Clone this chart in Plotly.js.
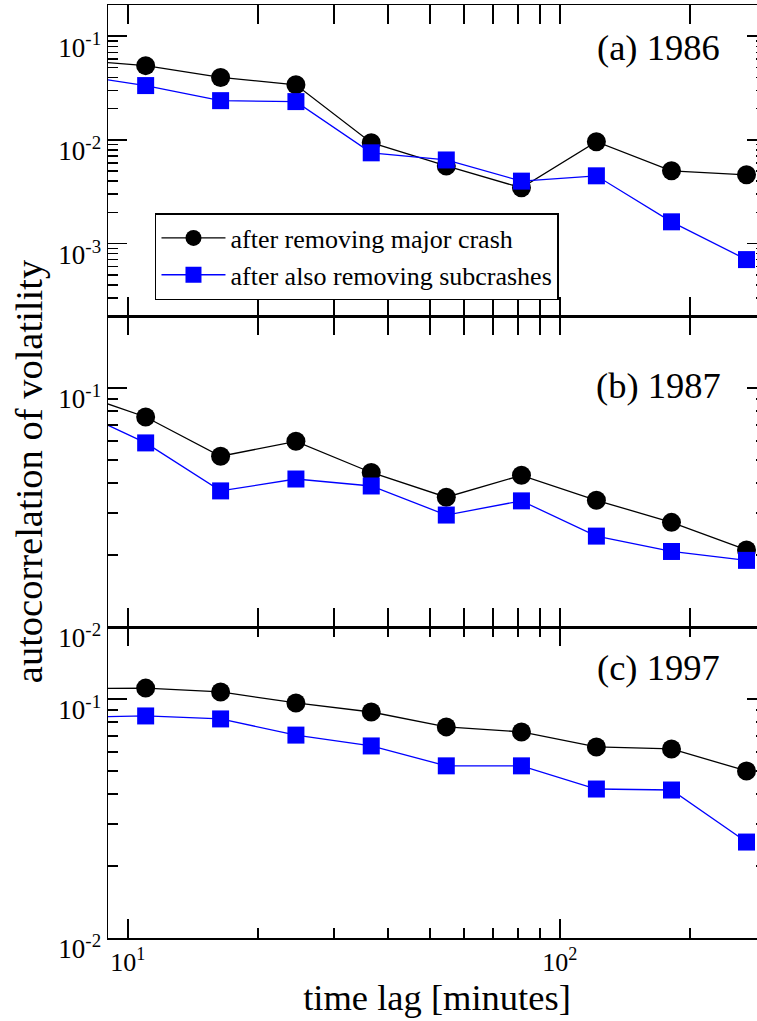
<!DOCTYPE html>
<html>
<head>
<meta charset="utf-8">
<script src="https://cdn.plot.ly/plotly-3.0.1.min.js"></script>
<style>
  html, body { margin: 0; padding: 0; overflow: hidden; background: #fff; }
  #chart { width: 770px; height: 1021px; }
</style>
</head>
<body>
<div id="chart"></div>
<script>
// Time lags (minutes) shared by all three panels
const lagMinutes = [7.39, 11.0, 16.4, 24.5, 36.6, 54.6, 81.5, 121.5, 181.3, 270.4];

// Autocorrelation of volatility, panel (a) 1986
const crash1986 = [0.0594, 0.052, 0.040, 0.034, 0.0094, 0.0056, 0.00345, 0.0096, 0.00503, 0.0046];
const sub1986   = [0.0428, 0.0334, 0.0239, 0.0234, 0.0075, 0.0064, 0.0040, 0.0045, 0.00162, 0.00070];

// Panel (b) 1987
const crash1987 = [0.0969, 0.0756, 0.0518, 0.0598, 0.0443, 0.0349, 0.0431, 0.0339, 0.0274, 0.0210];
const sub1987   = [0.0824, 0.0589, 0.0371, 0.0416, 0.0389, 0.0294, 0.0337, 0.0240, 0.0207, 0.0190];

// Panel (c) 1997
const crash1997 = [0.1105, 0.111, 0.107, 0.0962, 0.0882, 0.0764, 0.0728, 0.0630, 0.0618, 0.0500];
const sub1997   = [0.0838, 0.0849, 0.0825, 0.0706, 0.0636, 0.0525, 0.0525, 0.0420, 0.0416, 0.0252];

const seriesNames = ['after removing major crash', 'after also removing subcrashes'];
const panelLabels = ['(a) 1986', '(b) 1987', '(c) 1997'];

const xTickVals = [10, 100];
const xTickText = ['10<sup>1</sup>', '10<sup>2</sup>'];
const yTickValsA = [0.001, 0.01, 0.1];
const yTickTextA = ['10<sup>-3</sup>', '10<sup>-2</sup>', '10<sup>-1</sup>'];
const yTickValsBC = [0.01, 0.1];
const yTickTextBC = ['10<sup>-2</sup>', '10<sup>-1</sup>'];

const FONT = '"Liberation Serif", "Times New Roman", Times, serif';
const BLUE = '#0000ff';

function crashTrace(y, yaxis, show) {
  return {
    x: lagMinutes, y: y, yaxis: yaxis, xaxis: 'x',
    mode: 'lines+markers', name: seriesNames[0], legendgroup: 'crash', showlegend: show,
    line: { color: '#000', width: 1.3 },
    marker: { symbol: 'circle', size: 19, color: '#000' }
  };
}
function subTrace(y, yaxis, show) {
  return {
    x: lagMinutes, y: y, yaxis: yaxis, xaxis: 'x',
    mode: 'lines+markers', name: seriesNames[1], legendgroup: 'sub', showlegend: show,
    line: { color: BLUE, width: 1.3 },
    marker: { symbol: 'square', size: 17, color: BLUE }
  };
}

const traces = [
  crashTrace(crash1986, 'y', true),  subTrace(sub1986, 'y', true),
  crashTrace(crash1987, 'y2', false), subTrace(sub1987, 'y2', false),
  crashTrace(crash1997, 'y3', false), subTrace(sub1997, 'y3', false)
];

const tickCommon = {
  ticks: 'inside', ticklen: 19, tickwidth: 1.5, tickcolor: '#000',
  showline: true, linecolor: '#000', linewidth: 1.5, mirror: 'allticks',
  showgrid: false, zeroline: false,
  minor: { ticks: 'inside', ticklen: 10, tickwidth: 1.5, tickcolor: '#000', dtick: 'D1', showgrid: false }
};

function yAxis(domain, range, vals, text, extra) {
  return Object.assign({}, tickCommon, {
    type: 'log', domain: domain, range: range.map(Math.log10), anchor: 'x',
    tickmode: 'array', tickvals: vals, ticktext: text,
    tickfont: { family: FONT, size: 27, color: '#000' },
    ticklabelshift: 11
  }, extra || {});
}

const layout = {
  width: 770, height: 1021,
  margin: { l: 108, r: 4, t: 5, b: 83 },
  paper_bgcolor: '#fff', plot_bgcolor: '#fff',
  font: { family: FONT, color: '#000' },
  xaxis: Object.assign({}, tickCommon, {
    type: 'log', range: [Math.log10(9), Math.log10(300)], anchor: 'y3',
    tickmode: 'array', tickvals: xTickVals, ticktext: xTickText,
    tickfont: { family: FONT, size: 26, color: '#000' },
    title: { text: 'time lag [minutes]', font: { family: FONT, size: 36.5, color: '#000' }, standoff: 4 }
  }),
  yaxis: yAxis([2 / 3, 1], [0.0002, 0.2], yTickValsA, yTickTextA),
  yaxis2: yAxis([1 / 3, 2 / 3], [0.01, 0.2], yTickValsBC, yTickTextBC, {
    title: { text: 'autocorrelation of volatility', font: { family: FONT, size: 38.5, color: '#000' }, standoff: 4 }
  }),
  yaxis3: yAxis([0, 1 / 3], [0.01, 0.2], yTickValsBC, yTickTextBC),
  showlegend: true,
  legend: {
    x: 0.0714, y: 0.777, xanchor: 'left', yanchor: 'top',
    bgcolor: '#fff', bordercolor: '#000', borderwidth: 1.5,
    font: { family: FONT, size: 26, color: '#000' },
    itemwidth: 64, tracegroupgap: 0
  },
  annotations: [
    { text: panelLabels[0], x: 0.836, y: 0.954 },
    { text: panelLabels[1], x: 0.836, y: 0.5927 },
    { text: panelLabels[2], x: 0.836, y: 0.2894 }
  ].map(a => Object.assign(a, {
    xref: 'paper', yref: 'paper', xanchor: 'center', yanchor: 'middle', showarrow: false,
    font: { family: FONT, size: 36.5, color: '#000' }
  }))
};

Plotly.newPlot('chart', traces, layout, { displayModeBar: false, staticPlot: true });
</script>
</body>
</html>
